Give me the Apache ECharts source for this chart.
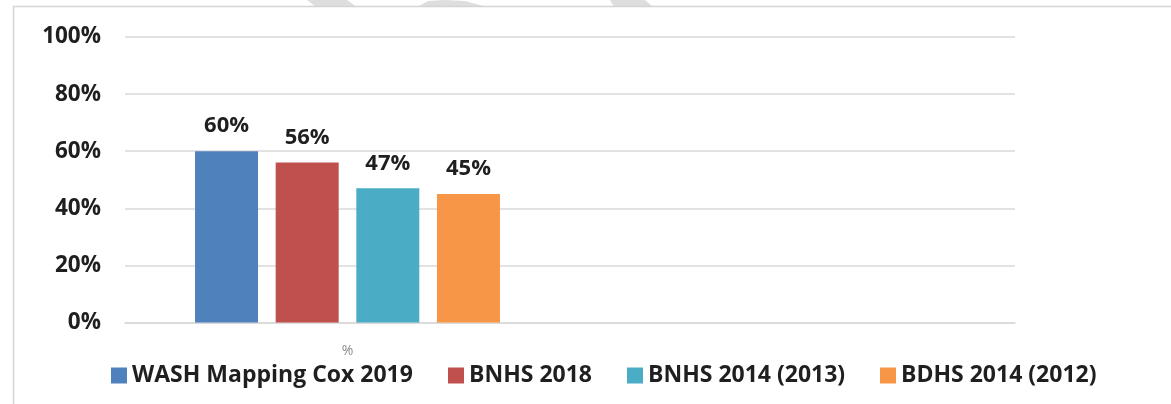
<!DOCTYPE html>
<html>
<head>
<meta charset="utf-8">
<style>
  html, body { margin: 0; padding: 0; background: #ffffff; }
  #chart { width: 1171px; height: 404px; }
</style>
<script src="https://cdn.jsdelivr.net/npm/echarts@6/dist/echarts.min.js"></script>
</head>
<body>
<div id="chart"></div>
<script>
// Categories on the x axis (second slot left empty)
const categories = ['%', ''];
// Survey sources and their values (%)
const seriesNames = ['WASH Mapping Cox 2019', 'BNHS 2018', 'BNHS 2014 (2013)', 'BDHS 2014 (2012)'];
const seriesValues = [60, 56, 47, 45];
const seriesColors = ['#4f81bd', '#c0504d', '#4bacc6', '#f79646'];
// Legend item left edges
const legendLefts = [106, 443, 622, 875];

const FONT = '"Open Sans", "DejaVu Sans", sans-serif';
const chart = echarts.init(document.getElementById('chart'), null, { renderer: 'canvas' });

const series = seriesNames.map((name, i) => ({
  name: name,
  type: 'bar',
  data: [seriesValues[i], '-'],
  barWidth: 63,
  barGap: '28%',
  itemStyle: { color: seriesColors[i] },
  label: {
    show: true,
    position: 'top',
    distance: 14,
    formatter: '{c}%',
    fontFamily: FONT,
    fontWeight: 'bold',
    fontSize: 22,
    color: '#1f1f1f'
  },
  emphasis: { disabled: true }
}));

const legends = seriesNames.map((name, i) => ({
  data: [name],
  left: legendLefts[i],
  top: 359,
  itemWidth: 16,
  itemHeight: 16,
  icon: 'rect',
  textStyle: { fontFamily: FONT, fontWeight: 'bold', fontSize: 23, color: '#1f1f1f' }
}));

chart.setOption({
  animation: false,
  backgroundColor: '#ffffff',
  grid: { left: 125, right: 156, top: 37, bottom: 81.5, containLabel: false },
  xAxis: {
    type: 'category',
    data: categories,
    axisTick: { show: false },
    axisLine: { lineStyle: { color: '#d9d9d9', width: 1.5 } },
    axisLabel: { color: '#8a8a8a', fontSize: 14, fontFamily: FONT, margin: 22 }
  },
  yAxis: {
    type: 'value',
    min: 0,
    max: 100,
    interval: 20,
    axisLine: { show: false },
    axisTick: { show: false },
    splitLine: { lineStyle: { color: '#d9d9d9', width: 1.5 } },
    axisLabel: {
      formatter: '{value}%',
      color: '#1f1f1f',
      fontFamily: FONT,
      fontWeight: 'bold',
      fontSize: 22.5,
      margin: 24
    }
  },
  legend: legends,
  graphic: [
    // faint background shapes along the top edge
    { type: 'polygon', silent: true, z: -1, shape: { points: [[307, 0], [347, 0], [357, 7], [316, 7]] }, style: { fill: '#dedede' } },
    { type: 'polygon', silent: true, z: -1, shape: { points: [[417, 7], [428, 1], [445, 0], [465, 1], [487, 7]] }, style: { fill: '#dedede' } },
    { type: 'polygon', silent: true, z: -1, shape: { points: [[610, 0], [645, 0], [653, 7], [614, 7]] }, style: { fill: '#dedede' } },
    // chart area border
    { type: 'rect', silent: true, shape: { x: 13.5, y: 6.5, width: 1200, height: 500 }, style: { fill: 'none', stroke: '#d4d4d4', lineWidth: 1.5 } }
  ],
  series: series
});
</script>
</body>
</html>
